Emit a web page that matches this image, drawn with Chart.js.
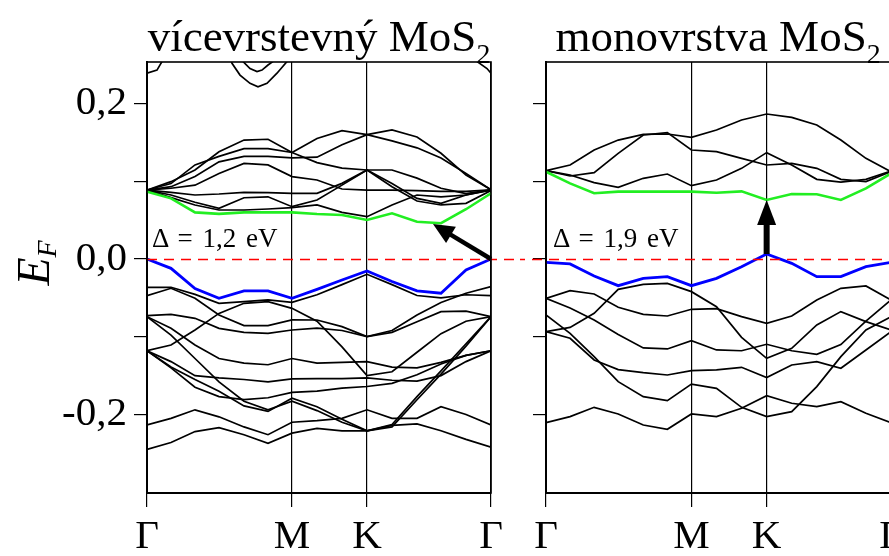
<!DOCTYPE html>
<html><head><meta charset="utf-8">
<script src="https://cdn.jsdelivr.net/npm/chart.js@4/dist/chart.umd.min.js"></script>
<style>
html,body{margin:0;padding:0;background:#fff;overflow:hidden;width:889px;height:556px}
#wrap{position:relative;width:889px;height:556px;overflow:hidden;font-family:'Liberation Serif',serif;color:#000}
canvas{position:absolute;top:0}
#cL{left:0}
#cR{left:520px}
.ttl{position:absolute;font-size:45px;white-space:nowrap;text-align:center;line-height:1;width:400px}
.ttl sub{font-size:0.62em;vertical-align:-0.42em;line-height:0}
.gap{position:absolute;font-size:27px;white-space:nowrap;line-height:1;word-spacing:3px}
#ef{position:absolute;left:-16px;top:238px;width:100px;height:50px;line-height:50px;text-align:center;transform:rotate(-90deg);font-style:italic;font-size:46px;white-space:nowrap}
#ef sub{font-size:28px;vertical-align:-7px;line-height:0}
</style></head>
<body><div id="wrap">
<canvas id="cL" width="520" height="556"></canvas>
<canvas id="cR" width="400" height="556"></canvas>
<div class="ttl" style="left:119px;top:14px">vícevrstevný MoS<sub>2</sub></div>
<div class="ttl" style="left:518px;top:14px">monovrstva MoS<sub>2</sub></div>
<div class="gap" style="left:152px;top:225px">Δ = 1,2 eV</div>
<div class="gap" style="left:553px;top:225px">Δ = 1,9 eV</div>
<div id="ef">E<sub>F</sub></div>
</div>
<script>
// ---- k-path (Γ-M-K-Γ) ----
const kGrid = [0, 24, 48, 72, 97, 121, 145, 170, 195, 220, 245, 270, 294, 319, 344];
const kTickValues = [0, 145, 220, 344];
const kTickLabels = ['Γ', 'M', 'K', 'Γ'];
const eTickValues = [0.2, 0.1, 0, -0.1, -0.2];
const eTickLabels = ['0,2', '', '0,0', '', '-0,2'];
const fermiLevel = [0];

// ---- multilayer MoS2: conduction bands ----
const multiCbMin = [0.0866, 0.078, 0.060, 0.058, 0.060, 0.060, 0.060, 0.0579, 0.0566, 0.0502, 0.0587, 0.048, 0.046, 0.064, 0.0845];
const multiCb1 = [0.0887, 0.0995, 0.1145, 0.138, 0.153, 0.154, 0.137, 0.155, 0.165, 0.160, 0.152, 0.143, 0.130, 0.110, 0.089];
const multiCb2 = [0.0887, 0.093, 0.106, 0.125, 0.132, 0.132, 0.130, 0.131, 0.147, 0.160, 0.166, 0.157, 0.136, 0.108, 0.089];
const multiCb3 = [0.0887, 0.097, 0.121, 0.132, 0.142, 0.142, 0.137, 0.124, 0.117, 0.1145, 0.1145, 0.104, 0.091, 0.084, 0.089];
const multiCb4 = [0.0887, 0.091, 0.095, 0.110, 0.123, 0.121, 0.106, 0.1016, 0.090, 0.0887, 0.0887, 0.088, 0.087, 0.087, 0.089];
const multiCb5 = [0.0887, 0.0857, 0.0823, 0.0836, 0.0857, 0.0853, 0.0845, 0.0845, 0.0973, 0.1145, 0.097, 0.078, 0.0716, 0.0823, 0.089];
const multiCb6 = [0.0887, 0.0823, 0.073, 0.0652, 0.0788, 0.080, 0.0673, 0.0759, 0.095, 0.1145, 0.093, 0.0746, 0.0695, 0.0716, 0.088];
const multiCb7 = [0.0887, 0.0789, 0.0695, 0.063, 0.063, 0.0643, 0.066, 0.0695, 0.060, 0.0544, 0.0695, 0.0823, 0.080, 0.0823, 0.0887];
// high bands that leave the window (own k samples)
const multiHiAk = [0, 10, 15, 22];
const multiHiAe = [0.239, 0.243, 0.254, 0.28];
const multiHiBk = [323, 330, 340, 344];
const multiHiBe = [0.28, 0.254, 0.245, 0.239];
const multiHiCk = [80, 85, 93, 103, 111, 120, 130, 140, 146];
const multiHiCe = [0.27, 0.2517, 0.2366, 0.226, 0.2216, 0.226, 0.239, 0.254, 0.27];
const multiHiDk = [92, 96, 103, 110, 115, 121, 126, 130];
const multiHiDe = [0.265, 0.254, 0.245, 0.241, 0.243, 0.2495, 0.254, 0.265];

// ---- multilayer MoS2: valence bands ----
const multiVbMax = [0, -0.012, -0.038, -0.0506, -0.041, -0.041, -0.0506, -0.039, -0.027, -0.0154, -0.029, -0.041, -0.044, -0.014, 0];
const multiVb2 = [-0.0364, -0.0364, -0.0455, -0.057, -0.0549, -0.0527, -0.0557, -0.046, -0.033, -0.0197, -0.033, -0.047, -0.050, -0.046, -0.047];
const multiVb3 = [-0.0472, -0.0377, -0.0506, -0.072, -0.0857, -0.0857, -0.0784, -0.0785, -0.087, -0.0999, -0.092, -0.072, -0.056, -0.044, -0.0356];
const multiVb4 = [-0.0729, -0.0712, -0.0763, -0.0892, -0.0943, -0.0956, -0.0913, -0.089, -0.092, -0.0999, -0.0943, -0.0806, -0.0677, -0.067, -0.0742];
const multiVb5 = [-0.118, -0.1106, -0.0913, -0.070, -0.057, -0.0549, -0.0635, -0.080, -0.113, -0.150, -0.145, -0.120, -0.096, -0.080, -0.0742];
const multiVb6 = [-0.0742, -0.089, -0.1106, -0.128, -0.134, -0.136, -0.128, -0.134, -0.133, -0.132, -0.139, -0.140, -0.133, -0.124, -0.118];
const multiVb7 = [-0.0742, -0.098, -0.128, -0.158, -0.183, -0.194, -0.183, -0.195, -0.210, -0.221, -0.213, -0.177, -0.144, -0.109, -0.0742];
const multiVb8 = [-0.118, -0.139, -0.155, -0.170, -0.189, -0.196, -0.179, -0.190, -0.206, -0.221, -0.216, -0.181, -0.148, -0.112, -0.0742];
const multiVb9 = [-0.118, -0.132, -0.150, -0.153, -0.155, -0.158, -0.1543, -0.154, -0.154, -0.153, -0.156, -0.157, -0.150, -0.132, -0.118];
const multiVb10 = [-0.118, -0.140, -0.165, -0.177, -0.181, -0.1785, -0.1715, -0.170, -0.166, -0.164, -0.160, -0.149, -0.135, -0.124, -0.118];
const multiVb11 = [-0.2135, -0.205, -0.194, -0.203, -0.216, -0.226, -0.210, -0.208, -0.205, -0.194, -0.205, -0.205, -0.190, -0.200, -0.2135];
const multiVb12 = [-0.245, -0.236, -0.222, -0.217, -0.226, -0.237, -0.224, -0.218, -0.221, -0.221, -0.214, -0.212, -0.221, -0.232, -0.242];

// ---- monolayer MoS2 ----
const monoCbMin = [0.1123, 0.0973, 0.0845, 0.0866, 0.0866, 0.0866, 0.0866, 0.0853, 0.087, 0.0759, 0.0836, 0.0832, 0.0759, 0.0909, 0.110];
const monoCb1 = [0.1136, 0.1209, 0.1402, 0.153, 0.1603, 0.1608, 0.1565, 0.1659, 0.1788, 0.1865, 0.1822, 0.1723, 0.153, 0.1295, 0.1123];
const monoCb2 = [0.1136, 0.1068, 0.111, 0.1359, 0.1595, 0.1625, 0.1402, 0.138, 0.1295, 0.1209, 0.123, 0.1166, 0.1025, 0.0995, 0.1123];
const monoCb3 = [0.1136, 0.108, 0.0982, 0.0922, 0.1038, 0.1093, 0.0943, 0.1016, 0.1166, 0.1368, 0.1209, 0.1025, 0.099, 0.1025, 0.1132];
const monoVbMax = [-0.0043, -0.0064, -0.0219, -0.0343, -0.0249, -0.0227, -0.0343, -0.0249, -0.0099, 0.0064, -0.0056, -0.0227, -0.0227, -0.0099, -0.0043];
const monoVb2 = [-0.0506, -0.0407, -0.045, -0.0621, -0.0712, -0.0733, -0.0647, -0.0638, -0.0742, -0.0827, -0.0733, -0.0527, -0.0377, -0.0347, -0.0527];
const monoVb3 = [-0.0934, -0.088, -0.0699, -0.039, -0.0326, -0.0313, -0.042, -0.0613, -0.1007, -0.1278, -0.1149, -0.0849, -0.0677, -0.0806, -0.0913];
const monoVb4 = [-0.0506, -0.063, -0.0785, -0.097, -0.1144, -0.1157, -0.105, -0.117, -0.118, -0.1097, -0.118, -0.1226, -0.110, -0.080, -0.0527];
const monoVb5 = [-0.072, -0.0956, -0.1256, -0.1578, -0.1771, -0.1822, -0.161, -0.1664, -0.1908, -0.2028, -0.1963, -0.1642, -0.1256, -0.0913, -0.0742];
const monoVb6 = [-0.0934, -0.102, -0.1299, -0.1423, -0.1462, -0.1492, -0.1436, -0.1427, -0.1393, -0.1526, -0.1363, -0.1321, -0.1406, -0.117, -0.0934];
const monoVb7 = [-0.2105, -0.2028, -0.1908, -0.1993, -0.2135, -0.2191, -0.1993, -0.2028, -0.192, -0.1758, -0.1856, -0.1899, -0.1835, -0.1985, -0.2105];

// gap arrows: [k from, E from, k to, E to]
const multiGapArrow = [344, 0, 286, 0.045];
const monoGapArrow = [220, 0.0064, 220, 0.0759];

const GREEN = '#22ee22', BLUE = '#0000ff', BLACK = '#000000';

function onGrid(vals) { return kGrid.map((k, i) => ({x: k, y: vals[i]})); }
function onK(ks, es) { return ks.map((k, i) => ({x: k, y: es[i]})); }
function ds(points, color, width, order) {
  return {data: points, borderColor: color, borderWidth: width, pointRadius: 0, fill: false, tension: 0, order: order};
}

function drawArrow(ctx, x1, y1, x2, y2, shaftW, headL, headW) {
  const ang = Math.atan2(y2 - y1, x2 - x1);
  const len = Math.hypot(x2 - x1, y2 - y1);
  ctx.save();
  ctx.translate(x1, y1); ctx.rotate(ang);
  ctx.fillStyle = '#000';
  ctx.fillRect(0, -shaftW / 2, len - headL + 1, shaftW);
  ctx.beginPath(); ctx.moveTo(len, 0); ctx.lineTo(len - headL, -headW / 2); ctx.lineTo(len - headL, headW / 2); ctx.closePath(); ctx.fill();
  ctx.restore();
}

function panelPlugin(side, arrow, arrowStyle) {
  return {
    id: 'panel' + side,
    afterDatasetsDraw(chart) {
      const {ctx, chartArea: a, scales: {x, y}} = chart;
      const y0 = Math.round(y.getPixelForValue(fermiLevel[0])) + 0.5;
      ctx.save();
      ctx.strokeStyle = '#ff0000'; ctx.lineWidth = 1.4; ctx.setLineDash([10, 7]);
      ctx.beginPath();
      if (side === 'L') { ctx.moveTo(a.left, y0); ctx.lineTo(chart.width, y0); }
      else { ctx.lineDashOffset = 5; ctx.moveTo(0, y0); ctx.lineTo(a.right, y0); }
      ctx.stroke();
      ctx.restore();
      ctx.save();
      ctx.strokeStyle = '#000'; ctx.lineWidth = 1.6;
      ctx.strokeRect(a.left, a.top, a.right - a.left, a.bottom - a.top);
      ctx.restore();
      drawArrow(ctx, x.getPixelForValue(arrow[0]), y.getPixelForValue(arrow[1]),
                x.getPixelForValue(arrow[2]), y.getPixelForValue(arrow[3]),
                arrowStyle[0], arrowStyle[1], arrowStyle[2]);
    }
  };
}

function makeChart(id, datasets, side, arrow, arrowStyle) {
  const isL = side === 'L';
  return new Chart(document.getElementById(id), {
    type: 'line',
    data: {datasets: datasets},
    options: {
      responsive: false, animation: false, events: [],
      layout: {padding: {top: 62, right: 29, left: 0, bottom: 0}},
      plugins: {legend: {display: false}, tooltip: {enabled: false}, title: {display: false}},
      scales: {
        x: {
          type: 'linear', min: 0, max: 344,
          afterBuildTicks: s => { s.ticks = kTickValues.map(v => ({value: v})); },
          afterFit: s => { s.height = 63; },
          ticks: {autoSkip: false, maxRotation: 0, padding: 6, color: '#000',
                  font: {family: 'Liberation Serif', size: 41},
                  callback: (v, i) => kTickLabels[i]},
          grid: {color: '#000', lineWidth: 1.2, drawOnChartArea: true, drawTicks: true, tickLength: 14},
          border: {display: true, color: '#000', width: 2}
        },
        y: {
          type: 'linear', min: -0.301, max: 0.2534,
          afterBuildTicks: s => { s.ticks = eTickValues.map(v => ({value: v})); },
          afterFit: s => { s.width = isL ? 147 : 26; },
          ticks: {display: isL, padding: 7, color: '#000',
                  font: {family: 'Liberation Serif', size: 41},
                  callback: (v, i) => eTickLabels[i]},
          grid: {drawOnChartArea: false, drawTicks: true, tickLength: 13, color: '#000', lineWidth: 1.2},
          border: {display: true, color: '#000', width: 2}
        }
      }
    },
    plugins: [panelPlugin(side, arrow, arrowStyle)]
  });
}

const leftSets = [
  ds(onGrid(multiCbMin), GREEN, 2.6, 1),
  ds(onGrid(multiVbMax), BLUE, 2.8, 1),
  ...[multiCb1, multiCb2, multiCb3, multiCb4, multiCb5, multiCb6, multiCb7,
      multiVb2, multiVb3, multiVb4, multiVb5, multiVb6, multiVb7, multiVb8, multiVb9, multiVb10, multiVb11, multiVb12]
      .map(b => ds(onGrid(b), BLACK, 1.7, 2)),
  ds(onK(multiHiAk, multiHiAe), BLACK, 1.7, 2),
  ds(onK(multiHiBk, multiHiBe), BLACK, 1.7, 2),
  ds(onK(multiHiCk, multiHiCe), BLACK, 1.7, 2),
  ds(onK(multiHiDk, multiHiDe), BLACK, 1.7, 2)
];
const rightSets = [
  ds(onGrid(monoCbMin), GREEN, 2.6, 1),
  ds(onGrid(monoVbMax), BLUE, 2.8, 1),
  ...[monoCb1, monoCb2, monoCb3, monoVb2, monoVb3, monoVb4, monoVb5, monoVb6, monoVb7]
      .map(b => ds(onGrid(b), BLACK, 1.7, 2))
];

makeChart('cL', leftSets, 'L', multiGapArrow, [4.5, 21, 19]);
makeChart('cR', rightSets, 'R', monoGapArrow, [6, 25, 19]);
</script>
</body></html>
